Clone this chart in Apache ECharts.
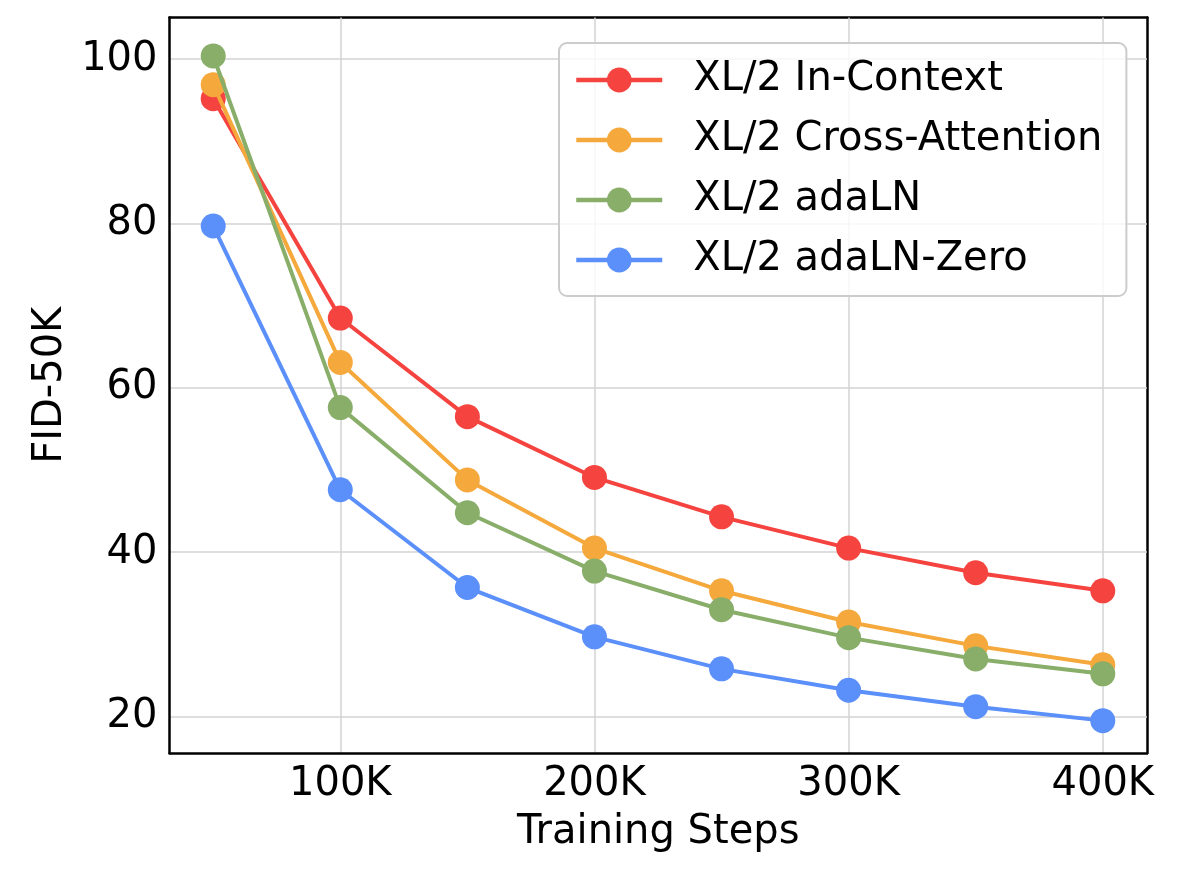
<!DOCTYPE html>
<html>
<head>
<meta charset="utf-8">
<script src="https://cdn.jsdelivr.net/npm/echarts@6/dist/echarts.min.js"></script>
<style>
html,body{margin:0;padding:0;background:#fff;}
#chart{width:1190px;height:889px;}
</style>
</head>
<body>
<div id="chart"></div>
<script>
const steps = [50, 100, 150, 200, 250, 300, 350, 400];
const seriesNames = ['XL/2 In-Context', 'XL/2 Cross-Attention', 'XL/2 adaLN', 'XL/2 adaLN-Zero'];
const inContext = [95.2, 68.5, 56.5, 49.1, 44.3, 40.5, 37.5, 35.3];
const crossAttention = [96.9, 63.1, 48.8, 40.5, 35.3, 31.5, 28.6, 26.3];
const adaLN = [100.4, 57.6, 44.8, 37.7, 33.0, 29.6, 27.0, 25.2];
const adaLNZero = [79.7, 47.6, 35.7, 29.7, 25.8, 23.2, 21.2, 19.5];
const colors = ['#f5443f', '#f5a93c', '#88ae6a', '#5b8ff9'];

const allValues = [inContext, crossAttention, adaLN, adaLNZero];
const FONT = 'DejaVu Sans';
const X_MIN = 32.8, X_MAX = 417.4, Y_MIN = 15.56, Y_MAX = 105.08;

const chart = echarts.init(document.getElementById('chart'), null, {renderer: 'canvas'});
const series = allValues.map((vals, i) => ({
  name: seriesNames[i],
  type: 'line',
  data: steps.map((s, j) => [s, vals[j]]),
  symbol: 'circle',
  symbolSize: 25,
  showSymbol: true,
  lineStyle: {color: colors[i], width: 4},
  itemStyle: {color: colors[i]},
  z: 2 + i,
  animation: false
}));

const frameAxis = {
  axisLine: {show: true, lineStyle: {color: '#000', width: 2.5}},
  axisTick: {show: false},
  axisLabel: {show: false},
  splitLine: {show: false}
};

chart.setOption({
  backgroundColor: '#ffffff',
  animation: false,
  grid: {
    left: 169.5, right: 43, top: 17.5, bottom: 136,
    show: false, containLabel: false
  },
  legend: {
    orient: 'vertical',
    left: 559, top: 43,
    data: seriesNames,
    itemWidth: 86, itemHeight: 31,
    itemGap: 20,
    padding: [17, 24, 16, 15],
    backgroundColor: 'rgba(255,255,255,0.8)',
    borderColor: '#cccccc', borderWidth: 2, borderRadius: 8,
    lineStyle: {width: 4.5},
    textStyle: {fontFamily: FONT, fontSize: 40, color: '#000', lineHeight: 40, padding: [0, 0, 0, 26]}
  },
  xAxis: [{
    type: 'value',
    min: X_MIN, max: X_MAX,
    minInterval: 100, maxInterval: 100,
    name: 'Training Steps',
    nameLocation: 'middle',
    nameGap: 60,
    nameTextStyle: {fontFamily: FONT, fontSize: 40, color: '#000'},
    axisLine: {show: true, lineStyle: {color: '#000', width: 2.5}},
    axisTick: {show: false},
    axisLabel: {
      fontFamily: FONT, fontSize: 40, color: '#000', margin: 12,
      showMinLabel: false, showMaxLabel: false,
      formatter: v => (v % 100 === 0 ? v + 'K' : '')
    },
    splitLine: {show: true, showMinLine: false, showMaxLine: false, lineStyle: {color: '#d3d3d3', width: 1.5}},
    z: 1
  }, Object.assign({type: 'value', position: 'top', min: X_MIN, max: X_MAX}, frameAxis)],
  yAxis: [{
    type: 'value',
    min: Y_MIN, max: Y_MAX,
    minInterval: 20, maxInterval: 20,
    name: 'FID-50K',
    nameLocation: 'middle',
    nameGap: 99,
    nameTextStyle: {fontFamily: FONT, fontSize: 40, color: '#000'},
    axisLine: {show: true, lineStyle: {color: '#000', width: 2.5}},
    axisTick: {show: false},
    axisLabel: {
      fontFamily: FONT, fontSize: 40, color: '#000', margin: 12,
      showMinLabel: false, showMaxLabel: false,
      formatter: v => (v % 20 === 0 ? String(v) : '')
    },
    splitLine: {show: true, showMinLine: false, showMaxLine: false, lineStyle: {color: '#d3d3d3', width: 1.5}},
    z: 1
  }, Object.assign({type: 'value', position: 'right', min: Y_MIN, max: Y_MAX}, frameAxis)],
  series: series
});
</script>
</body>
</html>
